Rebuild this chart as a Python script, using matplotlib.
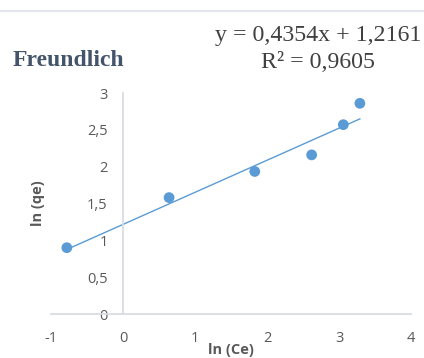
import matplotlib
matplotlib.use("Agg")
import matplotlib.pyplot as plt
from matplotlib.lines import Line2D
import numpy as np

# ln(Ce) and ln(qe) values for the Freundlich linearisation
ln_ce = [-0.78, 0.64, 1.83, 2.62, 3.06, 3.29]
ln_qe = [0.90, 1.58, 1.935, 2.16, 2.57, 2.86]

# Linear trendline coefficients shown on the chart
slope = 0.4354
intercept = 1.2161

x_ticks = [-1, 0, 1, 2, 3, 4]
y_ticks = [0, 0.5, 1, 1.5, 2, 2.5, 3]
x_tick_labels = ["-1", "0", "1", "2", "3", "4"]
y_tick_labels = ["0", "0,5", "1", "1,5", "2", "2,5", "3"]

W, H = 424, 358
fig = plt.figure(figsize=(W / 100, H / 100), dpi=100)
fig.patch.set_facecolor("white")

ax = fig.add_axes([51 / W, 1 - 314 / H, (411 - 51) / W, (314 - 93) / H])
ax.set_xlim(-1, 4)
ax.set_ylim(0, 3)

blue = "#5b9bd5"
axis_gray = "#d9dce3"
label_gray = "#595959"

# trendline across the data range
xs = np.array([min(ln_ce), max(ln_ce)])
ax.plot(xs, slope * xs + intercept, color=blue, lw=1.0, zorder=2)
ax.scatter(ln_ce, ln_qe, s=60, color=blue, edgecolors="none", zorder=3)

for s in ["top", "right"]:
    ax.spines[s].set_visible(False)
ax.spines["left"].set_position(("data", 0))
ax.spines["bottom"].set_position(("data", 0))
for s in ["left", "bottom"]:
    ax.spines[s].set_color(axis_gray)
    ax.spines[s].set_linewidth(1.3)

tick_font = {"family": "Open Sans", "size": 10.5, "color": label_gray}
ax.set_xticks(x_ticks)
ax.set_xticklabels(x_tick_labels, **tick_font)
ax.set_yticks(y_ticks)
ax.set_yticklabels(y_tick_labels, **tick_font)
ax.tick_params(axis="both", length=0)
ax.tick_params(axis="y", pad=11)
ax.tick_params(axis="x", pad=12)

# axis titles
fig.text(231 / W, 1 - 350 / H, "ln (Ce)", ha="center", va="center",
         fontfamily="Open Sans", fontweight="bold", fontsize=10.5, color=label_gray)
fig.text(38 / W, 1 - 203 / H, "ln (qe)", ha="center", va="center", rotation=90,
         fontfamily="Open Sans", fontweight="bold", fontsize=10.5, color=label_gray)

# chart title and regression equation
fig.text(13 / W, 1 - 60 / H, "Freundlich", ha="left", va="center",
         fontfamily="Liberation Serif", fontweight="bold", fontsize=17, color="#44546a")
fig.text(318 / W, 1 - 36 / H, "y = 0,4354x + 1,2161", ha="center", va="center",
         fontfamily="Liberation Serif", fontsize=17.2, color="#404040")
fig.text(318 / W, 1 - 62 / H, "R² = 0,9605", ha="center", va="center",
         fontfamily="Liberation Serif", fontsize=17.2, color="#404040")

# thin border line across the top
fig.add_artist(Line2D([0, 1], [1 - 11 / H, 1 - 11 / H], transform=fig.transFigure,
                      color="#e3e5ee", lw=1.5))

fig.savefig("out.png", dpi=100)
